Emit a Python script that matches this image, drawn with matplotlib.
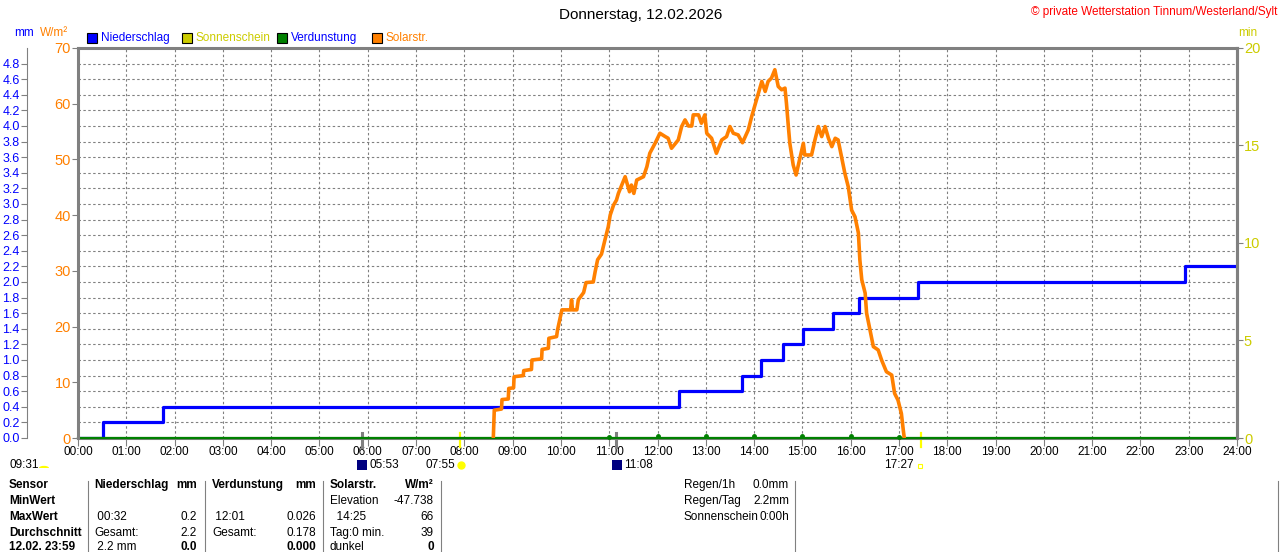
import matplotlib.pyplot as plt
import matplotlib.transforms as mtrans
from matplotlib.patches import Rectangle, Wedge

plt.rcParams['font.family'] = ['Liberation Sans', 'DejaVu Sans']

# Solarstrahlung (W/m²) über die Uhrzeit (Stunden)
solar_t = [8.60, 8.62, 8.63, 8.77, 8.78, 8.91, 8.92, 9.02, 9.03, 9.22, 9.23, 9.39, 9.40,
           9.60, 9.61, 9.74, 9.75, 9.91, 9.93, 10.02, 10.20, 10.22, 10.24, 10.33, 10.36,
           10.47, 10.52, 10.67, 10.71, 10.76, 10.84, 10.91, 10.98, 11.02, 11.09, 11.15,
           11.19, 11.26, 11.33, 11.42, 11.46, 11.51, 11.57, 11.71, 11.78, 11.84, 11.95,
           12.05, 12.16, 12.22, 12.29, 12.43, 12.50, 12.57, 12.64, 12.71, 12.74, 12.85,
           12.91, 12.98, 13.02, 13.12, 13.22, 13.33, 13.43, 13.50, 13.57, 13.67, 13.76,
           13.88, 13.95, 14.02, 14.09, 14.16, 14.23, 14.29, 14.36, 14.43, 14.50, 14.57,
           14.64, 14.67, 14.71, 14.74, 14.81, 14.87, 14.94, 15.02, 15.05, 15.19, 15.26,
           15.33, 15.40, 15.47, 15.54, 15.61, 15.68, 15.74, 15.81, 15.88, 15.95, 16.02,
           16.09, 16.16, 16.19, 16.23, 16.30, 16.33, 16.40, 16.47, 16.57, 16.64, 16.74,
           16.85, 16.91, 16.98, 17.05, 17.09, 17.11]
solar_w = [0.0, 5.0, 5.0, 5.2, 6.9, 7.0, 8.9, 9.0, 11.0, 11.2, 12.1, 12.3, 14.0,
           14.2, 15.9, 16.1, 17.9, 18.2, 19.4, 23.0, 23.0, 24.8, 23.0, 23.0, 24.8,
           26.1, 27.9, 28.0, 29.9, 32.0, 33.0, 35.5, 37.9, 40.0, 41.8, 42.7,
           43.9, 45.4, 46.9, 44.2, 45.4, 43.9, 46.3, 46.9, 48.7, 51.1, 52.9,
           54.7, 54.1, 53.8, 52.0, 53.5, 55.9, 57.1, 56.0, 56.0, 58.0, 58.0,
           56.5, 58.0, 54.7, 53.8, 51.1, 53.5, 54.1, 55.9, 54.7, 54.4, 53.0,
           55.3, 57.7, 59.8, 61.9, 64.0, 62.2, 64.0, 64.6, 66.1, 63.1, 62.5,
           62.8, 60.1, 55.9, 52.9, 49.0, 47.2, 49.9, 52.9, 50.8, 50.8, 53.5,
           55.9, 54.1, 55.9, 53.8, 52.3, 53.8, 53.5, 50.5, 47.5, 45.1, 40.9,
           39.7, 36.8, 32.0, 28.4, 26.0, 22.4, 19.4, 16.4, 15.8, 14.0, 11.9,
           11.3, 8.0, 6.8, 4.4, 1.4, 0.0]

# Niederschlag (mm), Summe über den Tag
rain_t = [0.0, 0.52, 1.76, 12.45, 13.75, 14.14, 14.60, 15.02, 15.64, 16.17, 17.39, 22.92, 24.0]
rain_mm = [0.0, 0.2, 0.4, 0.6, 0.8, 1.0, 1.2, 1.4, 1.6, 1.8, 2.0, 2.2, 2.2]

# Verdunstung (mm), Stundenwerte
evap_t = [11.0, 12.0, 13.0, 14.0, 15.0, 16.0, 17.0]
evap_mm = [0.015, 0.026, 0.025, 0.024, 0.026, 0.020, 0.012]

# Mondauf-/untergang, Sonnenauf-/untergang (Stunden)
moon_t = [5 + 53 / 60, 11 + 8 / 60]
sun_t = [7 + 55 / 60, 17 + 27 / 60]

hours = list(range(25))
hour_labels = [f'{h:02d}:00' for h in hours]
mm_ticks = [round(0.2 * i, 1) for i in range(25)]
w_ticks = [0, 10, 20, 30, 40, 50, 60, 70]
min_ticks = [0, 5, 10, 15, 20]

BLUE = '#0000FF'
ORANGE = '#FF8000'
YEL = '#CCCC00'
GREEN = '#008000'
GRAY = '#808080'
FS = 8.5

W, H = 1280, 552
fig = plt.figure(figsize=(W / 100, H / 100), dpi=100)
fig.patch.set_facecolor('white')
ax = fig.add_axes([78 / W, 1 - 438 / H, (1237 - 78) / W, 390 / H])

# ---------- mm-Achse (Basis) ----------
ax.set_xlim(0, 24)
ax.set_ylim(0, 5)
ax.set_yticks(mm_ticks)
ax.set_yticklabels([f'{v:.1f}' for v in mm_ticks])
ax.tick_params(axis='y', direction='out', length=4, width=0.8, color=GRAY, pad=1,
               labelcolor=BLUE, labelsize=9)
ax.spines['left'].set_position(('outward', 37))
ax.spines['left'].set_color(GRAY)
ax.spines['left'].set_linewidth(0.8)
for s in ['top', 'right', 'bottom']:
    ax.spines[s].set_color(GRAY)
    ax.spines[s].set_linewidth(2.2)
ax.set_xticks(hours)
ax.set_xticklabels(hour_labels)
ax.tick_params(axis='x', direction='out', length=6, width=0.8, color=GRAY, pad=0,
               labelsize=FS)
ax.grid(True, color=GRAY, linestyle=(0, (2.2, 2.2)), linewidth=0.8)
ax.set_axisbelow(True)

ax.plot(rain_t, rain_mm, drawstyle='steps-post', color=BLUE, linewidth=2.3, zorder=3)
ax.axhline(0, color=GREEN, linewidth=1.6, zorder=3, clip_on=False)
ax.plot(evap_t, evap_mm, linestyle='none', marker='o', markersize=2.5, color=GREEN,
        zorder=3, clip_on=False)

# Ereignis-Striche unter der Achse
trans = mtrans.blended_transform_factory(ax.transData, ax.transAxes)
for t in moon_t:
    ax.plot([t, t], [-0.022, 0.012], color=GRAY, linewidth=2.2, transform=trans, clip_on=False)
for t in sun_t:
    ax.plot([t, t], [-0.022, 0.012], color='#FFFF00', linewidth=1.6, transform=trans, clip_on=False)

# ---------- W/m²-Achse ----------
ax_w = ax.twinx()
ax_w.set_ylim(0, 70)
ax_w.yaxis.tick_left()
ax_w.set_yticks(w_ticks)
ax_w.set_yticklabels([str(v) for v in w_ticks])
ax_w.tick_params(axis='y', direction='out', length=4, width=0.8, color=GRAY, pad=1,
                 labelcolor=ORANGE, labelsize=10.5)
for s in ['top', 'right', 'bottom']:
    ax_w.spines[s].set_visible(False)
ax_w.spines['left'].set_color(GRAY)
ax_w.spines['left'].set_linewidth(2.2)
ax_w.plot(solar_t, solar_w, color=ORANGE, linewidth=2.6, zorder=4)

# ---------- min-Achse (Sonnenschein) ----------
ax_min = ax.twinx()
ax_min.set_ylim(0, 20)
ax_min.set_yticks(min_ticks)
ax_min.set_yticklabels([str(v) for v in min_ticks])
ax_min.tick_params(axis='y', direction='out', length=4, width=0.8, color=GRAY, pad=1,
                   labelcolor=YEL, labelsize=10.5)
for s in ['top', 'left', 'bottom']:
    ax_min.spines[s].set_visible(False)
ax_min.spines['right'].set_color(GRAY)
ax_min.spines['right'].set_linewidth(2.2)

# ---------- Kopfzeile ----------
def fx(px):
    return px / W

def fy(py):
    return 1 - py / H

fig.text(fx(641), fy(15), 'Donnerstag, 12.02.2026', ha='center', va='center', fontsize=11)
fig.text(fx(1277), fy(12), '© private Wetterstation Tinnum/Westerland/Sylt', ha='right',
         va='center', fontsize=FS, color='#FF0000')
fig.text(fx(14), fy(33), 'mm', ha='left', va='center', fontsize=FS, color=BLUE)
fig.text(fx(40), fy(33), 'W/m²', ha='left', va='center', fontsize=FS, color=ORANGE)
fig.text(fx(1238), fy(33), 'min', ha='left', va='center', fontsize=FS, color=YEL)

legend_items = [('Niederschlag', BLUE, BLUE, 87), ('Sonnenschein', YEL, YEL, 182),
                ('Verdunstung', GREEN, BLUE, 277), ('Solarstr.', ORANGE, ORANGE, 372)]
for name, fc, tc, px in legend_items:
    fig.patches.append(Rectangle((fx(px), fy(43)), 10 / W, 10 / H, facecolor=fc,
                                 edgecolor='black', linewidth=0.8, transform=fig.transFigure))
    fig.text(fx(px + 14), fy(38), name, ha='left', va='center', fontsize=FS, color=tc)

# ---------- Zeiten unter der Achse ----------
ty = 465
fig.text(fx(10), fy(ty), '09:31', ha='left', va='center', fontsize=FS)
fig.patches.append(Wedge((fx(44), fy(468)), 5 / W, 0, 180, facecolor='#FFFF00',
                         edgecolor='none', transform=fig.transFigure))
fig.patches.append(Rectangle((fx(357), fy(470)), 10 / W, 10 / H, facecolor='#000080',
                             edgecolor='none', transform=fig.transFigure))
fig.text(fx(370), fy(ty), '05:53', ha='left', va='center', fontsize=FS)
fig.text(fx(455), fy(ty), '07:55', ha='right', va='center', fontsize=FS)
fig.lines.append(plt.Line2D([fx(461)], [fy(ty)], marker='o', markersize=5, color='#FFFF00',
                            transform=fig.transFigure))
fig.patches.append(Rectangle((fx(612), fy(470)), 10 / W, 10 / H, facecolor='#000080',
                             edgecolor='none', transform=fig.transFigure))
fig.text(fx(624), fy(ty), '11:08', ha='left', va='center', fontsize=FS)
fig.text(fx(914), fy(ty), '17:27', ha='right', va='center', fontsize=FS)
fig.patches.append(Rectangle((fx(918), fy(468)), 4 / W, 4 / H, facecolor='none',
                             edgecolor='#FFFF00', linewidth=0.8, transform=fig.transFigure))

# ---------- Tabelle unten ----------
for px in [88, 205, 323, 441, 795, 1278]:
    fig.lines.append(plt.Line2D([fx(px), fx(px)], [fy(481), 0], color=GRAY, linewidth=0.8,
                                transform=fig.transFigure))

rows_y = [485, 501, 517, 533, 547]
row_names = ['Sensor', 'MinWert', 'MaxWert', 'Durchschnitt', '12.02. 23:59']
for name, py in zip(row_names, rows_y):
    fig.text(fx(9), fy(py), name, ha='left', va='center', fontsize=FS, fontweight='bold')

cols = [
    (94, 197, [('Niederschlag', 'mm', True, True), ('', '', False, False),
               (' 00:32', '0.2', False, False), ('Gesamt:', '2.2', False, False),
               (' 2.2 mm', '0.0', False, True)]),
    (212, 316, [('Verdunstung', 'mm', True, True), ('', '', False, False),
                (' 12:01', '0.026', False, False), ('Gesamt:', '0.178', False, False),
                ('', '0.000', False, True)]),
    (330, 434, [('Solarstr.', 'W/m²', True, True), ('Elevation', '-47.738', False, False),
                ('  14:25', '66', False, False), ('Tag:0 min.', '39', False, False),
                ('dunkel', '0', False, True)]),
]
for xl, xr, cells in cols:
    for (left, right, bl, br), py in zip(cells, rows_y):
        fig.text(fx(xl), fy(py), left, ha='left', va='center', fontsize=FS,
                 fontweight='bold' if bl else 'normal')
        fig.text(fx(xr), fy(py), right, ha='right', va='center', fontsize=FS,
                 fontweight='bold' if br else 'normal')

summary = [('Regen/1h', '0.0mm'), ('Regen/Tag', '2.2mm'), ('Sonnenschein', '0:00h')]
for (left, right), py in zip(summary, rows_y):
    fig.text(fx(684), fy(py), left, ha='left', va='center', fontsize=FS)
    fig.text(fx(789), fy(py), right, ha='right', va='center', fontsize=FS)

plt.savefig('out.png', dpi=100, facecolor='white')
plt.close()
